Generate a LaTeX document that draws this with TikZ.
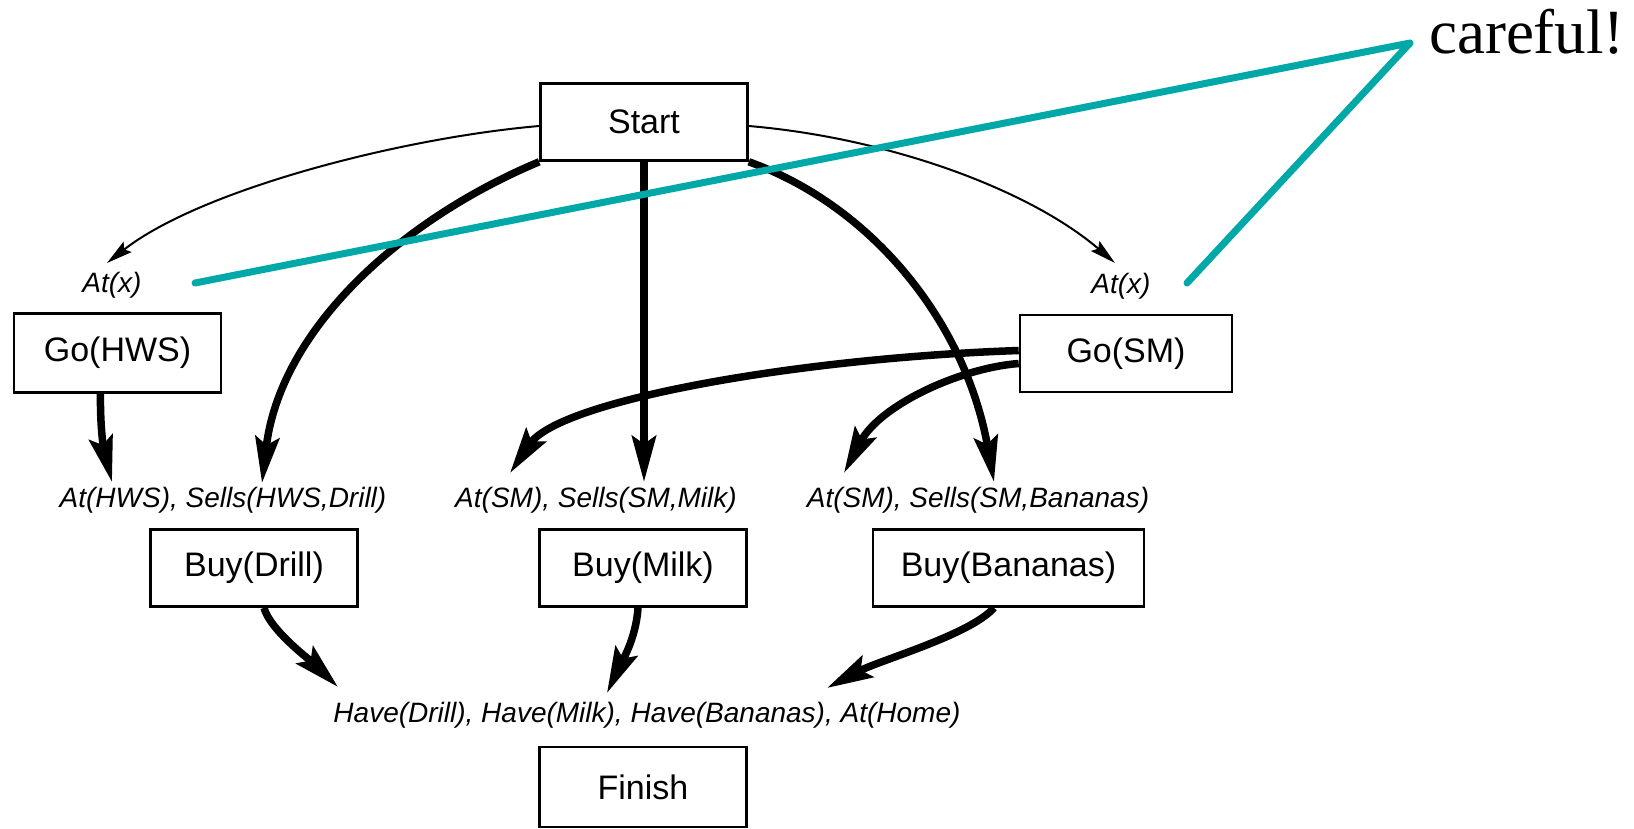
\documentclass[tikz,border=0pt]{standalone}
\usepackage{fontspec}
\setmainfont{Liberation Sans}
\newfontfamily\notefont{Liberation Serif}
\usetikzlibrary{arrows.meta,calc}
\definecolor{noteteal}{RGB}{0,168,168}
\begin{document}
\begin{tikzpicture}[x=1pt,y=-1pt,
  stepbox/.style={draw, line width=2.6pt, minimum width=207pt, minimum height=77pt,
    inner sep=0pt, font=\fontsize{34}{40}\selectfont},
  cond/.style={inner sep=0pt, font=\fontsize{28}{32}\selectfont\itshape},
  link/.style={line width=7.5pt, -{Stealth[length=46pt,width=24pt,inset=8pt]}},
  thinlink/.style={line width=2pt, -{Stealth[length=26pt,width=13pt,inset=4pt]}},
  note/.style={draw=noteteal, line width=7pt, line join=round, line cap=round}]
\useasboundingbox (0,0) rectangle (1634,828);

% plan steps
\node[stepbox] (start) at (644,122) {Start};
\node[stepbox, minimum height=79pt] (gohws) at (117.5,353) {Go(HWS)};
\node[stepbox, minimum width=212pt] (gosm) at (1126,353.5) {Go(SM)};
\node[stepbox] (buydrill) at (254,568) {Buy(Drill)};
\node[stepbox] (buymilk) at (643,568) {Buy(Milk)};
\node[stepbox, minimum width=271pt] (buyban) at (1008.5,568) {Buy(Bananas)};
\node[stepbox, minimum height=80pt] (finish) at (643,787) {Finish};

% preconditions
\node[cond] (atxl) at (112,285) {At(x)};
\node[cond] (atxr) at (1121,286) {At(x)};
\node[cond] (predrill) at (223,500) {At(HWS), Sells(HWS,Drill)};
\node[cond] (premilk) at (596,500) {At(SM), Sells(SM,Milk)};
\node[cond] (preban) at (978,500) {At(SM), Sells(SM,Bananas)};
\node[cond] (goal) at (647,715) {Have(Drill), Have(Milk), Have(Bananas), At(Home)};

% arrow end points on the precondition lines
\coordinate (txl) at (107,263);
\coordinate (txr) at (1115,263);
\coordinate (tHWS) at (112,482);
\coordinate (tDrill) at (262,483);
\coordinate (tMilk) at (644,482);
\coordinate (tBanS) at (994,482);
\coordinate (tSMmilk) at (510,473);
\coordinate (tSMban) at (844,473);
\coordinate (gDrill) at (338,687);
\coordinate (gMilk) at (607,693);
\coordinate (gBan) at (827,688);

% causal links
\draw[thinlink] ($(start.west)+(0,4)$) .. controls (400,138) and (200,190) .. (txl);
\draw[thinlink] ($(start.east)+(0,4)$) .. controls (890,138) and (1030,190) .. (txr);
\draw[link] (start.south west) .. controls (400,220) and (280,330) .. (tDrill);
\draw[link] (start.south) -- (tMilk);
\draw[link] (start.south east) .. controls (870,205) and (965,320) .. (tBanS);
\draw[link] ($(gohws.south)+(-17,0)$) .. controls (100,430) and (104,450) .. (tHWS);
\draw[link] ($(gosm.west)+(0,-3)$) .. controls (800,358) and (560,400) .. (tSMmilk);
\draw[link] ($(gosm.west)+(0,10)$) .. controls (960,368) and (880,405) .. (tSMban);
\draw[link] ($(buydrill.south)+(10,0)$) .. controls (270,630) and (310,660) .. (gDrill);
\draw[link] ($(buymilk.south)+(-5,0)$) .. controls (636,640) and (620,665) .. (gMilk);
\draw[link] ($(buyban.south)+(-14.5,0)$) .. controls (970,635) and (880,660) .. (gBan);

% warning note
\node[font=\notefont\fontsize{63}{70}\selectfont, inner sep=0pt, anchor=base] (careful) at (1527,53) {careful!};
\coordinate (apex) at (1410,43);
\coordinate (noteL) at (195,283);
\coordinate (noteR) at (1187,283);
\draw[note] (noteL) -- (apex) -- (noteR);
\end{tikzpicture}
\end{document}
